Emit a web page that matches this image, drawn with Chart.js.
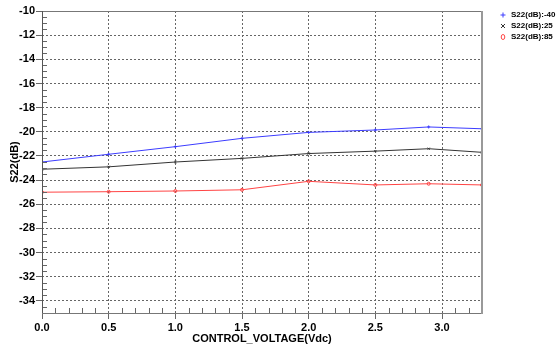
<!DOCTYPE html>
<html>
<head>
<meta charset="utf-8">
<script src="https://cdn.jsdelivr.net/npm/chart.js@4/dist/chart.umd.min.js"></script>
<style>
html, body { margin: 0; padding: 0; background: #fff; }
canvas { display: block; }
</style>
</head>
<body>
<canvas id="s22" width="558" height="349"></canvas>
<script>
// control voltage sweep points
var voltage = [0, 0.5, 1.0, 1.5, 2.0, 2.5, 2.9, 3.3];
// S22 in dB at -40, 25 and 85 degrees
var s22Cold = [-22.5, -21.86, -21.23, -20.54, -20.05, -19.85, -19.6, -19.75];
var s22Room = [-23.1, -22.9, -22.5, -22.2, -21.8, -21.6, -21.4, -21.7];
var s22Hot = [-25.0, -24.96, -24.9, -24.8, -24.1, -24.4, -24.3, -24.4];
var seriesNames = ['S22(dB):-40', 'S22(dB):25', 'S22(dB):85'];
// axis ticks
var xTicks = [0, 0.5, 1.0, 1.5, 2.0, 2.5, 3.0];
var yTicks = [-34, -32, -30, -28, -26, -24, -22, -20, -18, -16, -14, -12, -10];

var colors = ['#3c3cff', '#333333', '#ff4444'];
var markers = ['cross', 'crossRot', 'circle'];

function pts(ys) {
  return voltage.map(function (v, i) { return { x: v, y: ys[i] }; });
}

var datasets = [s22Cold, s22Room, s22Hot].map(function (ys, i) {
  return {
    label: seriesNames[i],
    data: pts(ys),
    showLine: true,
    borderColor: colors[i],
    backgroundColor: 'rgba(0,0,0,0)',
    borderWidth: 1,
    pointStyle: markers[i],
    pointRadius: 1.5,
    pointBorderWidth: 1,
    pointBorderColor: colors[i],
    tension: 0
  };
});

// frame, minor ticks and legend
var decorations = {
  id: 'decorations',
  afterDraw: function (chart) {
    var ctx = chart.ctx, a = chart.chartArea;
    var xs = chart.scales.x, ys = chart.scales.y;
    ctx.save();
    ctx.lineWidth = 1;

    ctx.strokeStyle = '#666';
    var i, p;
    for (i = 1; i < 33; i++) {
      if (i % 5 === 0) continue;
      p = Math.round(xs.getPixelForValue(i / 10)) + 0.5;
      ctx.beginPath(); ctx.moveTo(p, a.bottom); ctx.lineTo(p, a.bottom - 5); ctx.stroke();
    }
    for (i = -35; i < -10; i += 0.5) {
      if (i % 2 === 0) continue;
      p = Math.round(ys.getPixelForValue(i)) + 0.5;
      ctx.beginPath(); ctx.moveTo(a.left, p); ctx.lineTo(a.left + 5, p); ctx.stroke();
    }

    ctx.strokeStyle = '#777';
    ctx.beginPath();
    ctx.moveTo(a.left, Math.round(a.top) + 0.5);
    ctx.lineTo(Math.round(a.right) + 0.5, Math.round(a.top) + 0.5);
    ctx.moveTo(a.left, Math.round(a.bottom) + 0.5);
    ctx.lineTo(Math.round(a.right) + 0.5, Math.round(a.bottom) + 0.5);
    ctx.stroke();
    ctx.strokeStyle = '#999';
    ctx.lineWidth = 2;
    ctx.beginPath();
    ctx.moveTo(Math.round(a.right), a.top);
    ctx.lineTo(Math.round(a.right), a.bottom + 1);
    ctx.stroke();
    ctx.lineWidth = 1;
    ctx.strokeStyle = '#555';
    ctx.beginPath();
    ctx.moveTo(Math.round(a.left) + 0.5, a.top);
    ctx.lineTo(Math.round(a.left) + 0.5, a.bottom);
    ctx.stroke();

    // legend
    ctx.font = 'bold 8px "Liberation Sans", Arial, sans-serif';
    ctx.textBaseline = 'middle';
    var lx = 503, ly = 15;
    datasets.forEach(function (d, k) {
      var y = ly + k * 11;
      ctx.strokeStyle = d.borderColor;
      ctx.beginPath();
      if (k === 0) {
        ctx.moveTo(lx - 2.5, y); ctx.lineTo(lx + 2.5, y);
        ctx.moveTo(lx, y - 2.5); ctx.lineTo(lx, y + 2.5);
      } else if (k === 1) {
        ctx.moveTo(lx - 2, y - 2); ctx.lineTo(lx + 2, y + 2);
        ctx.moveTo(lx + 2, y - 2); ctx.lineTo(lx - 2, y + 2);
      } else {
        ctx.ellipse(lx, y, 1.8, 2.5, 0, 0, Math.PI * 2);
      }
      ctx.stroke();
      ctx.fillStyle = '#000';
      ctx.fillText(d.label, lx + 8, y);
    });
    ctx.restore();
  }
};

var tickFont = { family: '"Liberation Sans", Arial, sans-serif', size: 11, weight: 'bold' };

new Chart(document.getElementById('s22').getContext('2d'), {
  type: 'scatter',
  data: { datasets: datasets },
  plugins: [decorations],
  options: {
    responsive: false,
    animation: false,
    layout: { padding: { top: 11, right: 76, left: 0, bottom: 0 } },
    plugins: { legend: { display: false }, tooltip: { enabled: false } },
    scales: {
      x: {
        type: 'linear',
        min: 0, max: 3.3,
        afterBuildTicks: function (s) { s.ticks = xTicks.map(function (v) { return { value: v }; }); },
        afterFit: function (s) { s.height = 36; },
        border: { display: false, dash: [2, 2] },
        grid: {
          color: '#666', lineWidth: 1,
          drawTicks: true, tickLength: 6, tickColor: '#666', tickBorderDash: [0, 0]
        },
        ticks: {
          color: '#000', font: tickFont, padding: 2, maxRotation: 0, autoSkip: false,
          callback: function (v) { return v.toFixed(1); }
        },
        title: {
          display: true, text: 'CONTROL_VOLTAGE(Vdc)', color: '#000', font: tickFont,
          padding: { top: 0, bottom: 3 }
        }
      },
      y: {
        min: -35, max: -10,
        afterBuildTicks: function (s) { s.ticks = yTicks.map(function (v) { return { value: v }; }); },
        afterFit: function (s) { s.width = 42; },
        border: { display: false, dash: [2, 2] },
        grid: {
          color: '#666', lineWidth: 1,
          drawTicks: true, tickLength: 6, tickColor: '#666', tickBorderDash: [0, 0]
        },
        ticks: { color: '#000', font: tickFont, padding: 1, autoSkip: false },
        title: {
          display: true, text: 'S22(dB)', color: '#000', font: tickFont,
          padding: { top: 8, bottom: 0 }
        }
      }
    }
  }
});
</script>
</body>
</html>
